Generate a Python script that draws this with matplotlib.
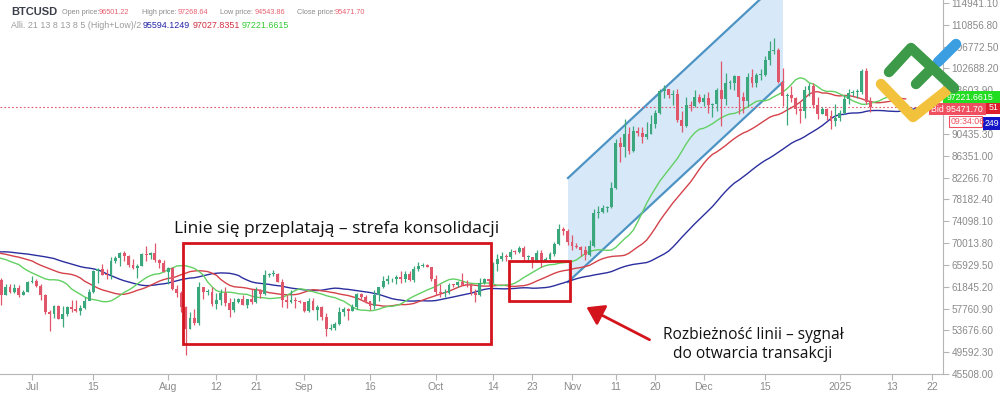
import numpy as np
import pandas as pd
import matplotlib
matplotlib.use("Agg")
import matplotlib.pyplot as plt
import matplotlib.dates as mdates
from matplotlib.patches import Rectangle, Polygon, FancyArrowPatch
from matplotlib.lines import Line2D

# ---------------- data (BTCUSD daily) ----------------
first_open = 67530
jun_c = [67760,67760,68810,70570,71080,70790,69360,69310,69650,69500,67320,68240,66750,66010,66200,66650,66500,65150,64950,64850,64100,64250,63180,60280,61800,60850,61650,60300,60900,62700]
jun_h = [67860,68420,70230,71050,71760,71600,71960,69570,69900,70150,69550,69980,68430,67300,66400,66920,67200,66600,65700,66450,65050,64520,64500,63400,62300,62430,62300,62200,61150,63000]
jun_l = [67440,67270,67610,68570,70380,70150,68500,69220,69150,69230,66070,66870,66290,65080,65880,66120,65130,64100,64700,64530,63400,63950,63180,58400,60280,60650,60600,60000,60300,60800]
jul_c = [62850,62030,60200,57020,56650,58230,55860,56710,58050,57720,57340,57900,59220,60800,64770,65080,64100,63960,66700,67160,68180,67560,65930,65360,65780,67900,67800,68240,66800,66190,64620]
jul_h = [63840,63300,62300,60500,57500,58500,58450,58250,58300,59400,59450,58500,59850,61400,64900,65400,66100,65100,67400,67600,68350,68500,67800,67050,66100,68200,69400,68300,70000,66950,66800]
jul_l = [62550,61780,59450,56800,53500,56050,55750,54300,56300,57200,57100,56600,57750,59300,60650,62450,64000,63250,63300,66250,65800,66600,65500,65100,63450,65750,66700,67050,66500,65300,64550]
aug_c = [65350,61450,60700,58100,53990,56030,55100,61700,60900,60930,58700,59350,60600,58720,57550,58900,59500,58400,59500,59000,61200,60400,64100,64200,64200,62800,59400,59000,59400,59100,58950]
aug_h = [65600,65600,62200,61100,58300,57050,57700,62700,61750,61450,61850,60700,61500,61750,59800,59800,59650,60250,59600,61400,61800,61400,64950,64500,65000,64450,63200,60200,61200,59900,59450]
aug_l = [62300,61200,59850,57200,49000,53950,54600,54750,59600,60300,58300,57650,58450,58300,56100,57100,58800,58400,57850,58600,58800,59800,60350,63600,63800,62700,58100,57850,58750,57800,58750]
sep_c = [57300,59100,57500,57980,56150,53950,54150,54850,57050,57650,57350,58130,60550,60000,59200,58200,60300,61750,62950,63200,63350,63600,63330,64300,63150,65200,65800,65900,65600,63300]
sep_h = [59050,59800,59800,58500,58300,56980,54850,55300,58100,58050,57900,58600,60650,60650,60380,59200,61300,61800,63850,64100,63500,64000,64750,64750,64800,65800,66500,66250,66050,65600]
sep_l = [57200,57150,57400,55600,55700,52550,53800,53650,54600,56400,55550,57350,57650,59500,58750,57500,57650,59200,61600,62400,62750,62400,62600,62750,62950,62700,64850,65450,65450,62850]
oct_c = [60800,60650,60750,62100,62080,62800,62200,62100,60600,60300,62450,63200,62850,66050,67050,67600,67400,68400,68350,69000,67350,67400,66650,68200,66650,67000,68000,69900,72700,72350,70250]
oct_h = [64100,62350,61450,62450,62350,63000,64450,63150,62500,61350,63400,63450,63250,66450,67900,68400,67900,68950,68650,69400,69500,67850,67400,68800,68750,67400,68300,70250,73600,72950,72700]
oct_l = [60200,59950,59850,60450,61700,61800,62150,61850,60300,58900,60150,62400,62050,62450,64800,66700,66700,67100,68000,68100,66600,66550,65300,66500,65500,66500,66800,67500,69700,71450,69700]
nov_c = [69500,69350,68750,67800,69400,75600,75900,76500,76700,80400,88700,87900,90500,87300,91000,90600,89800,90500,92300,94300,98400,98900,97700,98000,93100,91900,95900,95600,97400,96400]
nov_h = [71600,70000,69400,69500,70500,76400,76900,77200,76900,81500,89500,89900,93300,91800,91900,91800,91700,92600,94000,94900,98900,99600,98900,98600,98900,94700,97400,96600,98700,98000]
nov_l = [68800,69000,67500,66800,67500,69300,74700,75600,75850,76500,80200,85100,86200,86700,87100,90100,88800,89400,90400,91500,94100,97200,97200,95800,92600,90800,91800,94700,95400,96200]
dec_c = [97200,95800,96000,98700,96900,99900,99900,101200,97400,96600,101100,100000,101400,101400,104300,106000,106100,100200,97500,97700,97200,95100,94700,98700,99400,95800,94200,95100,93700,92800,93400]
dec_h = [97900,98200,96300,99000,104000,101900,100500,101400,101300,98300,101900,102500,101900,102600,105100,107800,108300,106500,102800,98100,99500,97400,96400,99400,99900,99900,97300,95500,95200,94900,96100]
dec_l = [95700,94400,93600,94700,92000,95900,98900,98700,94200,94300,95700,99300,99300,100600,101300,103300,105400,100000,95600,92200,96400,94200,92400,93400,97600,95200,93300,94100,93000,91300,92000]
jan_c = [94400,96900,98100,98200,98300,102200,96501.22,95471.70]
jan_h = [94900,97800,98900,98700,98800,102500,102700,97268.64]
jan_l = [92800,94200,96000,97500,97200,97900,96100,94543.86]

tick_dates = ["2024-07-01","2024-07-15","2024-08-01","2024-08-12","2024-08-21","2024-09-01","2024-09-16",
              "2024-10-01","2024-10-14","2024-10-23","2024-11-01","2024-11-11","2024-11-20","2024-12-01",
              "2024-12-15","2025-01-01","2025-01-13","2025-01-22"]
tick_labels = ["Jul","15","Aug","12","21","Sep","16","Oct","14","23","Nov","11","20","Dec","15","2025","13","22"]
y_tick_start = 45508.00
y_tick_step = 4084.30
y_tick_count = 18
y_hidden_tick = 94519.60   # covered by the price tags in the reference

closes = np.array(jun_c+jul_c+aug_c+sep_c+oct_c+nov_c+dec_c+jan_c, float)
highs = np.array(jun_h+jul_h+aug_h+sep_h+oct_h+nov_h+dec_h+jan_h, float)
lows = np.array(jun_l+jul_l+aug_l+sep_l+oct_l+nov_l+dec_l+jan_l, float)
opens = np.concatenate([[first_open], closes[:-1]])
dates = pd.date_range("2024-06-01", periods=len(closes), freq="D")
xd = mdates.date2num(dates)

# ---------------- figure ----------------
plt.rcParams['font.family'] = ['Liberation Sans', 'DejaVu Sans']
fig = plt.figure(figsize=(10, 3.95), dpi=100)
ax = fig.add_axes([0, 1-374/395, 0.943, 374/395])

def fx(px): return px/1000
def fy(py): return 1-py/395

x0 = mdates.date2num(pd.Timestamp("2024-07-01"))
ppd = 4.39
ax.set_xlim(x0 - 32/ppd, x0 + (943-32)/ppd)
ppv = 371/(114941.10-45508.00)
ax.set_ylim(45508.00, 114941.10 + 3/ppv)

def X(px): return x0 + (px-32)/ppd
def Y(py): return 45508.00 + (374-py)/ppv

# channel
ch = Polygon([(X(568), Y(178)), (X(783), Y(-22)), (X(783), Y(82)), (X(568), Y(282))],
             closed=True, facecolor='#d7e9f8', edgecolor='none', zorder=1)
ax.add_patch(ch)
ax.plot([X(568), X(783)], [Y(178), Y(-22)], color='#4d93c4', lw=1.6, zorder=2)
ax.plot([X(568), X(783)], [Y(282), Y(82)], color='#4d93c4', lw=1.6, zorder=2)

# alligator
med = (highs+lows)/2
def smma(v, n):
    out = np.empty_like(v)
    out[0] = v[0]
    for i in range(1, len(v)):
        out[i] = (out[i-1]*(n-1) + v[i])/n
    return out
jaw = smma(med, 21); teeth = smma(med, 13); lips = smma(med, 8)
ax.plot(xd+13, jaw, color='#2b2e9e', lw=1.0, zorder=3)
ax.plot(xd+8, teeth, color='#d4424a', lw=1.0, zorder=3)
ax.plot(xd+5, lips, color='#62d062', lw=1.0, zorder=3)

# candles
up = closes >= opens
col = np.where(up, '#3aa87c', '#e0566a')
ax.vlines(xd, lows, highs, colors=col, lw=0.9, zorder=4)
body_h = np.abs(closes-opens)
body_h = np.maximum(body_h, 180)
ax.bar(xd, body_h, bottom=np.minimum(opens, closes), width=0.66, color=col, edgecolor='none', zorder=5)

# current price line
ax.axhline(closes[-1], color='#e0566a', lw=0.8, ls=(0, (1.5, 2)), zorder=2)

# red boxes
ax.add_patch(Rectangle((X(183), Y(344)), X(491)-X(183), Y(243)-Y(344), fill=False,
                       edgecolor='#d4141c', lw=2.0, zorder=6))
ax.add_patch(Rectangle((X(509), Y(301)), X(570)-X(509), Y(261)-Y(301), fill=False,
                       edgecolor='#d4141c', lw=2.0, zorder=6))
ax.add_patch(FancyArrowPatch((X(652), Y(341)), (X(584), Y(306)), arrowstyle='-|>,head_length=6,head_width=4',
                             mutation_scale=1.7, color='#d4141c', lw=2.0, zorder=6))

ax.text(X(337), Y(229), "Linie się przeplatają – strefa konsolidacji", ha='center', va='center',
        fontsize=12.5, family=['Open Sans', 'DejaVu Sans'], color='#111111', zorder=7)
ax.text(X(753), Y(335), "Rozbieżność linii – sygnał", ha='center', va='center',
        fontsize=11.2, family=['Open Sans', 'DejaVu Sans'], color='#111111', zorder=7)
ax.text(X(753), Y(354), "do otwarcia transakcji", ha='center', va='center',
        fontsize=11.2, family=['Open Sans', 'DejaVu Sans'], color='#111111', zorder=7)

# axes styling
for s in ['top', 'left']:
    ax.spines[s].set_visible(False)
ax.spines['right'].set_color('#b5b5b5')
ax.spines['bottom'].set_color('#b5b5b5')
ax.yaxis.tick_right()
yt = [y_tick_start + k*y_tick_step for k in range(y_tick_count)]
ax.set_yticks(yt)
ax.set_yticklabels(["" if abs(v - y_hidden_tick) < 1 else f"{v:.2f}" for v in yt])
ax.tick_params(axis='y', colors='#b5b5b5', labelcolor='#8a8a8a', labelsize=7.2, length=4, pad=2)
ax.set_xticks(mdates.date2num(pd.to_datetime(tick_dates)))
ax.set_xticklabels(tick_labels)
ax.tick_params(axis='x', colors='#b5b5b5', labelcolor='#8a8a8a', labelsize=7.5, length=4, pad=2)
ax.patch.set_facecolor('white')

# header
fig.text(fx(11), fy(12), "BTCUSD", fontsize=8, fontweight='bold', color='#3a3f4a', va='center')
hdr = [(62, "Open price:", 99, "96501.22"), (142, "High price:", 178, "97268.64"),
       (220, "Low price:", 255, "94543.86"), (297, "Close price:", 335, "95471.70")]
for a, t, b, v in hdr:
    fig.text(fx(a), fy(12), t, fontsize=5.2, color='#8a8a8a', va='center')
    fig.text(fx(b), fy(12), v, fontsize=5.2, color='#e86070', va='center')
fig.text(fx(11), fy(26), "Alli. 21 13 8 13 8 5 (High+Low)/2", fontsize=6.4, color='#9a9a9a', va='center')
fig.text(fx(143), fy(26), "95594.1249", fontsize=6.4, color='#2424a8', va='center')
fig.text(fx(193), fy(26), "97027.8351", fontsize=6.4, color='#d03040', va='center')
fig.text(fx(242), fy(26), "97221.6615", fontsize=6.4, color='#33cc33', va='center')

# right-side price tags
def tag(x1, y1, x2, y2, fc, ec, text, tc, tx, ha='left'):
    fig.patches.append(Rectangle((fx(x1), fy(y2)), fx(x2)-fx(x1), fy(y1)-fy(y2), transform=fig.transFigure,
                                 facecolor=fc, edgecolor=ec, lw=0.8, zorder=10))
    fig.text(fx(tx), fy((y1+y2)/2), text, fontsize=6.3, color=tc, va='center', ha=ha, zorder=11)

tag(983, 117, 1000, 130, '#1414c8', 'none', "249", 'white', 999, 'right')
tag(986, 102, 1000, 114, '#dd1f2c', 'none', "51", 'white', 999, 'right')
tag(943, 91, 1000, 103, '#22dd22', 'none', "97221.6615", 'white', 947)
tag(929, 103, 986, 115, '#ef4f5e', 'none', "Bid 95471.70", 'white', 931)
tag(949, 116, 982, 127, 'white', '#ef4f5e', "09:34:06", '#ef4f5e', 951)

# logo
def stroke(pts, color):
    fig.lines.append(Line2D([fx(p[0]) for p in pts], [fy(p[1]) for p in pts], transform=fig.transFigure,
                            color=color, lw=7.5, solid_capstyle='round', solid_joinstyle='round', zorder=12))
stroke([(938, 62), (956, 44)], '#3b9ee0')
stroke([(881, 84), (913, 117), (946, 91)], '#f2c23c')
stroke([(889, 72), (911, 48), (954, 88)], '#3c9a48')
stroke([(932, 68), (916, 84)], '#3c9a48')

fig.savefig("out.png", dpi=100, facecolor='white')
